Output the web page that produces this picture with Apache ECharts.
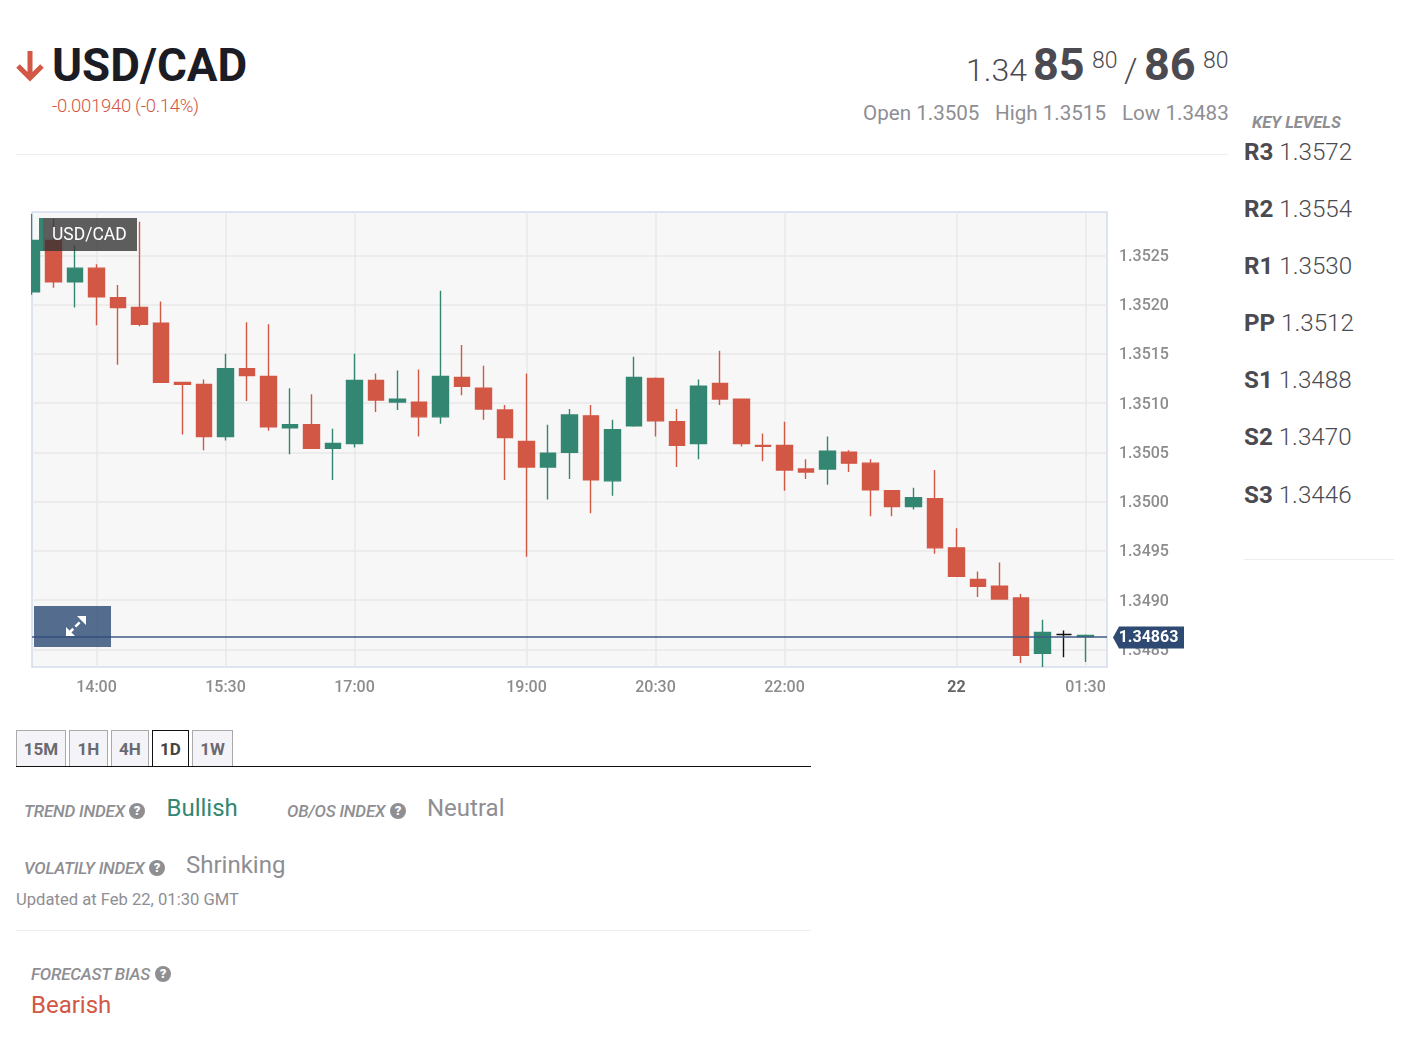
<!DOCTYPE html>
<html>
<head>
<meta charset="utf-8">
<title>USD/CAD</title>
<script src="https://cdn.jsdelivr.net/npm/echarts@6/dist/echarts.min.js"></script>
<style>
	html, body { margin: 0; padding: 0; background: #fff; }
	body { position: relative; width: 1405px; height: 1054px; overflow: hidden; font-family: Roboto, sans-serif; color: #8e8e93; }
	#chart { position: absolute; left: 0; top: 200px; width: 1200px; height: 520px; }
	.t { position: absolute; white-space: nowrap; line-height: 1; }
	.hr { position: absolute; height: 1px; background: #eeeeee; }
	.dark { color: #4a4a50; }
	.lv { font-size: 24.2px; font-weight: 300; color: #4a4a50; left: 1244px; }
	.lv b { font-weight: 700; }
	.hl { top: 103px; font-size: 20.6px; font-weight: 400; }
	.idx { font-size: 17px; font-style: italic; font-weight: 500; letter-spacing: -0.22px; }
	.val { font-size: 24px; font-weight: 400; }
	.q { position: absolute; width: 16px; height: 16px; border-radius: 50%; background: #8e8e93; color: #fff; font-size: 13px; font-weight: 900; line-height: 16px; text-align: center; }
	.tab { position: absolute; top: 730px; height: 36px; line-height: 37px; box-sizing: border-box; background: #f4f4f8; border: 1px solid #aaaaaa; border-bottom: 0; text-align: center; font-size: 17px; font-weight: 700; color: #6a6a70; }
	.tab.on { background: #fff; border: 1.5px solid #111; border-bottom: 0; color: #444; height: 37px; }
	#tabline { position: absolute; left: 16px; top: 766px; width: 795px; height: 1px; background: #111; }
	#leftMask { position: absolute; left: 16px; top: 205px; width: 15px; height: 100px; background: #fff; }
	#pair { position: absolute; left: 39px; top: 218px; width: 98px; height: 33px; box-sizing: border-box; border-left: 4px solid #348671; background: rgba(50,50,50,0.78); color: #fff; font-size: 17.5px; line-height: 32px; padding-left: 9px; }
	#zoomBtn { position: absolute; left: 34px; top: 606px; width: 77px; height: 41px; background: rgba(48,78,120,0.82); }
</style>
</head>
<body>

<svg style="position:absolute;left:14px;top:48px" width="32" height="34" viewBox="0 0 32 34">
	<path d="M16 3 V30 M4 18 L16 30 L28 18" fill="none" stroke="#d35745" stroke-width="5"/>
</svg>
<div class="t" style="left:52px;top:43px;font-size:45.7px;font-weight:700;color:#1b1c24">USD/CAD</div>
<div class="t" style="left:52px;top:97px;font-size:18.5px;font-weight:300;color:#d35745;letter-spacing:-0.3px">-0.001940 (-0.14%)</div>

<div class="t dark" style="left:966px;top:54px;font-size:32px;font-weight:300">1.34</div>
<div class="t dark" style="left:1033px;top:42px;font-size:45px;font-weight:700">85</div>
<div class="t dark" style="left:1092px;top:49px;font-size:23px;font-weight:300">80</div>
<div class="t dark" style="left:1124px;top:53px;font-size:34px;font-weight:300">/</div>
<div class="t dark" style="left:1144px;top:42px;font-size:45px;font-weight:700">86</div>
<div class="t dark" style="left:1203px;top:49px;font-size:23px;font-weight:300">80</div>

<div class="t hl" style="left:863px">Open 1.3505</div>
<div class="t hl" style="left:995px">High 1.3515</div>
<div class="t hl" style="left:1122px">Low 1.3483</div>
<div class="hr" style="left:16px;top:154px;width:1212px"></div>

<div class="t" style="left:1252px;top:115px;font-size:16.5px;font-style:italic;font-weight:700">KEY LEVELS</div>
<div class="t lv" style="top:140px"><b>R3</b> 1.3572</div>
<div class="t lv" style="top:197px"><b>R2</b> 1.3554</div>
<div class="t lv" style="top:254px"><b>R1</b> 1.3530</div>
<div class="t lv" style="top:311px"><b>PP</b> 1.3512</div>
<div class="t lv" style="top:368px"><b>S1</b> 1.3488</div>
<div class="t lv" style="top:425px"><b>S2</b> 1.3470</div>
<div class="t lv" style="top:483px"><b>S3</b> 1.3446</div>
<div class="hr" style="left:1244px;top:559px;width:150px"></div>

<div id="chart"></div>
<div id="leftMask"></div>
<div id="pair">USD/CAD</div>
<div id="zoomBtn">
	<svg style="position:absolute;left:31px;top:9px" width="22" height="22" viewBox="0 0 22 22">
		<path d="M4 18 L18 4" stroke="#fff" stroke-width="2.5" stroke-dasharray="6 3"/>
		<path d="M12 1 H21 V10 Z M1 12 V21 H10 Z" fill="#fff"/>
	</svg>
</div>

<div class="tab" style="left:16px;width:50px">15M</div>
<div class="tab" style="left:69px;width:39px">1H</div>
<div class="tab" style="left:111px;width:38px">4H</div>
<div class="tab on" style="left:152px;width:37px">1D</div>
<div class="tab" style="left:192px;width:41px">1W</div>
<div id="tabline"></div>

<div class="t idx" style="left:24px;top:803px">TREND INDEX</div><div class="q" style="left:129px;top:803px">?</div>
<div class="t val" style="left:166.5px;top:796px;color:#338772">Bullish</div>
<div class="t idx" style="left:287px;top:803px">OB/OS INDEX</div><div class="q" style="left:390px;top:803px">?</div>
<div class="t val" style="left:427px;top:796px">Neutral</div>
<div class="t idx" style="left:24px;top:860px">VOLATILY INDEX</div><div class="q" style="left:149px;top:860px">?</div>
<div class="t val" style="left:186px;top:853px">Shrinking</div>
<div class="t" style="left:16px;top:892px;font-size:16.6px;font-weight:400">Updated at Feb 22, 01:30 GMT</div>
<div class="hr" style="left:16px;top:930px;width:795px"></div>
<div class="t idx" style="left:31px;top:966px">FORECAST BIAS</div><div class="q" style="left:155px;top:966px">?</div>
<div class="t val" style="left:31px;top:993px;color:#d35745">Bearish</div>

<script>
/*
 * 15 分钟 K 线数据
 */
var categories = ['13:15', '13:30', '13:45', '14:00', '14:15', '14:30', '14:45', '15:00', '15:15', '15:30',
	'15:45', '16:00', '16:15', '16:30', '16:45', '17:00', '17:15', '17:30', '17:45', '18:00',
	'18:15', '18:30', '18:45', '19:00', '19:15', '19:30', '19:45', '20:00', '20:15', '20:30',
	'20:45', '21:00', '21:15', '21:30', '21:45', '22:00', '22:15', '22:30', '22:45', '23:00',
	'23:15', '23:30', '23:45', '22', '00:15', '00:30', '00:45', '01:00', '01:15', '01:30', '01:45'];
var opens = [1.35213, 1.35265, 1.35223, 1.35237, 1.35207, 1.35197, 1.35181, 1.35121, 1.35119, 1.35066,
	1.35135, 1.35127, 1.35075, 1.35078, 1.35054, 1.35059, 1.35123, 1.35101, 1.35101, 1.35086,
	1.35126, 1.35115, 1.35093, 1.35061, 1.35035, 1.35050, 1.35087, 1.35021, 1.35077, 1.35125,
	1.35081, 1.35059, 1.35120, 1.35104, 1.35057, 1.35057, 1.35033, 1.35033, 1.35050, 1.35039,
	1.35011, 1.34995, 1.35003, 1.34953, 1.34921, 1.34914, 1.34902, 1.34846, 1.34865, 1.34863];
var closes = [1.35265, 1.35223, 1.35237, 1.35208, 1.35197, 1.35180, 1.35121, 1.35119, 1.35066, 1.35135,
	1.35128, 1.35076, 1.35078, 1.35054, 1.35059, 1.35123, 1.35103, 1.35104, 1.35086, 1.35127,
	1.35117, 1.35094, 1.35065, 1.35035, 1.35049, 1.35088, 1.35022, 1.35073, 1.35126, 1.35082,
	1.35057, 1.35117, 1.35104, 1.35059, 1.35056, 1.35032, 1.35030, 1.35051, 1.35039, 1.35012,
	1.34995, 1.35004, 1.34953, 1.34924, 1.34914, 1.34901, 1.34844, 1.34867, 1.34865, 1.34864];
var lows = [1.35210, 1.35217, 1.35197, 1.35179, 1.35139, 1.35178, 1.35121, 1.35068, 1.35052, 1.35062,
	1.35102, 1.35072, 1.35048, 1.35054, 1.35022, 1.35055, 1.35091, 1.35093, 1.35066, 1.35079,
	1.35108, 1.35083, 1.35022, 1.34944, 1.35002, 1.35023, 1.34988, 1.35006, 1.35076, 1.35066,
	1.35035, 1.35043, 1.35098, 1.35056, 1.35041, 1.35011, 1.35023, 1.35017, 1.35030, 1.34985,
	1.34985, 1.34992, 1.34947, 1.34924, 1.34903, 1.34901, 1.34836, 1.34832, 1.34842, 1.34837];
var highs = [1.35292, 1.35287, 1.35260, 1.35241, 1.35220, 1.35284, 1.35203, 1.35121, 1.35124, 1.35150,
	1.35182, 1.35180, 1.35115, 1.35109, 1.35074, 1.35150, 1.35130, 1.35133, 1.35134, 1.35214,
	1.35159, 1.35138, 1.35098, 1.35130, 1.35078, 1.35094, 1.35098, 1.35083, 1.35147, 1.35126,
	1.35094, 1.35124, 1.35153, 1.35104, 1.35069, 1.35081, 1.35043, 1.35066, 1.35052, 1.35043,
	1.35011, 1.35014, 1.35032, 1.34973, 1.34929, 1.34938, 1.34906, 1.34880, 1.34869, 1.34865];
var xTickLabels = ['14:00', '15:30', '17:00', '19:00', '20:30', '22:00', '22', '01:30'];
var yTickValues = [1.3485, 1.3490, 1.3495, 1.3500, 1.3505, 1.3510, 1.3515, 1.3520, 1.3525];
var lastPrice = 1.34863;

var RED = '#d35745', GREEN = '#338772', LABEL_GRAY = '#8c8c8c', GRID_GRAY = '#e9e9e9';

var candleData = [];
for (var n = 0; n < opens.length; n++) {
	candleData.push([opens[n], closes[n], lows[n], highs[n]]);
}

/* 只在有标签的位置画刻度和竖线 */
var showTick = function(index, value) {
	return xTickLabels.indexOf(value) >= 0;
};

var chart = echarts.init(document.getElementById('chart'));
chart.setOption({
	animation: false,
	textStyle: { fontFamily: 'Roboto' },
	grid: {
		show: true,
		left: 32,
		top: 12,
		width: 1075,
		height: 455,
		backgroundColor: '#f7f7f7',
		borderColor: '#d3dbec',
		borderWidth: 1.5
	},
	xAxis: {
		type: 'category',
		data: categories,
		boundaryGap: false,
		axisLine: { show: false },
		axisTick: { show: false, interval: showTick },
		splitLine: { show: true, interval: showTick, lineStyle: { color: GRID_GRAY, width: 1.5 } },
		axisLabel: {
			interval: showTick,
			margin: 13,
			fontSize: 16,
			fontWeight: 500,
			color: LABEL_GRAY,
			formatter: function(value) {
				return value === '22' ? '{day|22}' : value;
			},
			rich: { day: { fontSize: 16, fontWeight: 700, color: '#666666', fontFamily: 'Roboto' } }
		}
	},
	yAxis: {
		type: 'value',
		position: 'right',
		min: 1.34832,
		max: 1.35294,
		axisLine: { show: false },
		axisTick: { show: false, customValues: yTickValues },
		splitLine: { show: true, lineStyle: { color: GRID_GRAY, width: 1.5 } },
		axisLabel: {
			customValues: yTickValues,
			margin: 12,
			formatter: function(value) {
				return '{v|' + value.toFixed(4) + '}';
			},
			rich: {
				v: { padding: [3, 0, 0, 0], fontSize: 16, fontWeight: 500, color: LABEL_GRAY, fontFamily: 'Roboto' }
			}
		}
	},
	series: [{
		type: 'candlestick',
		data: candleData,
		barWidth: 16,
		itemStyle: {
			color: GREEN,
			color0: RED,
			borderColor: GREEN,
			borderColor0: RED,
			borderColorDoji: '#111111',
			borderWidth: 1.4
		},
		markLine: {
			silent: true,
			symbol: 'none',
			precision: 5,
			label: { show: false },
			lineStyle: { color: '#3f5b85', type: 'solid', width: 1.5 },
			data: [{ yAxis: lastPrice }]
		},
		markPoint: {
			silent: true,
			data: [{
				coord: [categories[categories.length - 1], lastPrice],
				value: lastPrice.toFixed(5),
				symbol: 'path://M0 11 L6 0 H71 V22 H6 Z',
				symbolKeepAspect: false,
				symbolSize: [71, 22],
				symbolOffset: [41.5, 1],
				itemStyle: { color: '#2e4a73' },
				label: { show: true, position: 'inside', offset: [0, 1], color: '#fff', fontSize: 16, fontWeight: 700, fontFamily: 'Roboto' }
			}]
		}
	}]
});
</script>
</body>
</html>
